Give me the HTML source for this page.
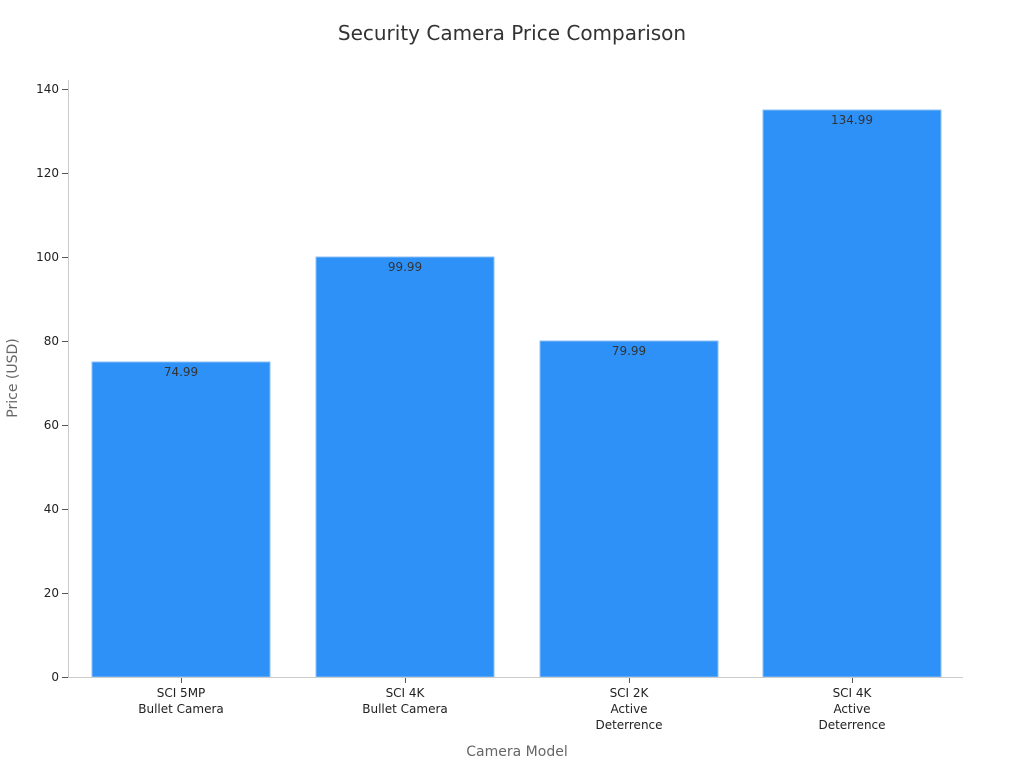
<!DOCTYPE html>
<html><head><meta charset="utf-8"><style>
html,body{margin:0;padding:0;background:#fff;}
svg{display:block;font-family:"DejaVu Sans","Liberation Sans",sans-serif;}
</style></head><body>
<svg width="1024" height="768" viewBox="0 0 1024 768">
<text x="512" y="40" text-anchor="middle" font-size="20" fill="#333">Security Camera Price Comparison</text>
<g fill="#2e91f8" stroke="#8cc0f5" stroke-width="1">
<rect x="92" y="362" width="178" height="315"/>
<rect x="316" y="257" width="178" height="420"/>
<rect x="540" y="341" width="178" height="336"/>
<rect x="763" y="110" width="178" height="567"/>
</g>
<g font-size="12" fill="#333" text-anchor="middle">
<text x="181" y="376">74.99</text>
<text x="405" y="271">99.99</text>
<text x="629" y="355">79.99</text>
<text x="852" y="124">134.99</text>
</g>
<line x1="68.5" y1="80" x2="68.5" y2="677" stroke="#ccc"/>
<line x1="68" y1="677.5" x2="963" y2="677.5" stroke="#ccc"/>
<g stroke="#555">
<line x1="62" y1="677.5" x2="68" y2="677.5"/>
<line x1="62" y1="593.5" x2="68" y2="593.5"/>
<line x1="62" y1="509.5" x2="68" y2="509.5"/>
<line x1="62" y1="425.5" x2="68" y2="425.5"/>
<line x1="62" y1="341.5" x2="68" y2="341.5"/>
<line x1="62" y1="257.5" x2="68" y2="257.5"/>
<line x1="62" y1="173.5" x2="68" y2="173.5"/>
<line x1="62" y1="89.5" x2="68" y2="89.5"/>
<line x1="181.5" y1="678" x2="181.5" y2="683"/>
<line x1="405.5" y1="678" x2="405.5" y2="683"/>
<line x1="629.5" y1="678" x2="629.5" y2="683"/>
<line x1="852.5" y1="678" x2="852.5" y2="683"/>
</g>
<g font-size="12" fill="#222" text-anchor="end">
<text x="59" y="681">0</text>
<text x="59" y="597">20</text>
<text x="59" y="513">40</text>
<text x="59" y="429">60</text>
<text x="59" y="345">80</text>
<text x="59" y="261">100</text>
<text x="59" y="177">120</text>
<text x="59" y="93">140</text>
</g>
<g font-size="12" fill="#222" text-anchor="middle">
<text x="181" y="697">SCI 5MP</text><text x="181" y="713">Bullet Camera</text>
<text x="405" y="697">SCI 4K</text><text x="405" y="713">Bullet Camera</text>
<text x="629" y="697">SCI 2K</text><text x="629" y="713">Active</text><text x="629" y="729">Deterrence</text>
<text x="852" y="697">SCI 4K</text><text x="852" y="713">Active</text><text x="852" y="729">Deterrence</text>
</g>
<text x="517" y="756" text-anchor="middle" font-size="14" fill="#666">Camera Model</text>
<text transform="translate(17,378) rotate(-90)" text-anchor="middle" font-size="14" fill="#666">Price (USD)</text>
</svg>
</body></html>
